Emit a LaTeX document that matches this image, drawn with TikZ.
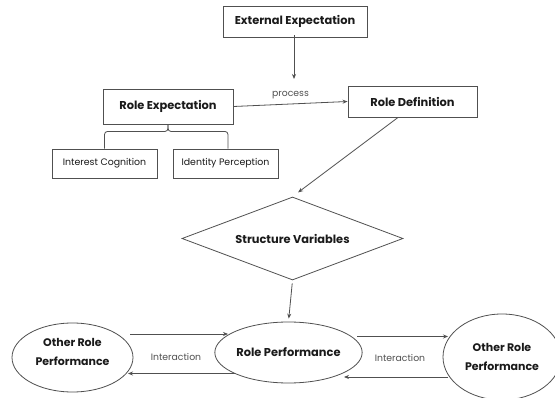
\documentclass[tikz,border=0pt]{standalone}
\usepackage{fontspec}
\setmainfont{Poppins}
\usetikzlibrary{shapes.geometric,arrows.meta,calc}
\definecolor{linec}{HTML}{505050}
\definecolor{txtc}{HTML}{1A1A1A}
\tikzset{
  box/.style={draw=linec,line width=0.9pt,rectangle,inner sep=0pt,text=txtc},
  bigtxt/.style={font=\fontsize{11.4}{13}\selectfont\bfseries},
  ovaltxt/.style={font=\fontsize{11}{19}\selectfont\bfseries},
  smalltxt/.style={font=\fontsize{9.4}{11}\selectfont},
  oval/.style={draw=linec,line width=0.8pt,ellipse,inner sep=0pt,text=txtc,align=center},
  arr/.style={draw=linec,line width=0.8pt,-{Stealth[length=5pt,width=4pt]}},
  plain/.style={draw=linec,line width=0.8pt},
  lbl/.style={text=linec,font=\fontsize{9.3}{11}\selectfont}
}
\begin{document}
\begin{tikzpicture}[x=1pt,y=-1pt]
\useasboundingbox (0,0) rectangle (555,398);
\fill[white] (0,0) rectangle (555,398);
\begin{scope}
\clip (0,0) rectangle (555,398);
\node[box,bigtxt,minimum width=144pt,minimum height=31pt] (ext) at (295,21.5) {External Expectation};
\node[box,bigtxt,minimum width=130pt,minimum height=35pt] (rexp) at (168,106.5) {Role Expectation};
\node[box,bigtxt,minimum width=129pt,minimum height=31pt] (rdef) at (412.5,101.5) {Role Definition};
\node[box,smalltxt,minimum width=105pt,minimum height=29pt] (ic) at (104.5,163.5) {Interest Cognition};
\node[box,smalltxt,minimum width=105pt,minimum height=29pt] (ip) at (225.5,163.5) {Identity Perception};
\node[draw=linec,line width=0.8pt,diamond,inner sep=0pt,aspect=2.66,minimum width=221pt,minimum height=83pt,bigtxt,text=txtc] (sv) at (292.5,238.5) {Structure Variables};
\node[oval,bigtxt,minimum width=143pt,minimum height=61pt] (rp) at (288.5,352.5) {Role Performance};
\node[oval,ovaltxt,minimum width=121pt,minimum height=69pt] (lop) at (72.5,357.5) {};
\node[ovaltxt,align=center,text=txtc,inner sep=0pt] (loptxt) at (72.5,351.5) {Other Role\\Performance};
\node[oval,ovaltxt,minimum width=118pt,minimum height=86pt] (rop) at (502,357) {Other Role\\Performance};

\coordinate (extend) at (294,79);
\draw[arr] (ext.south -| extend) ++(0,-2) -- (extend);
\draw[arr] (rexp.east) -- node[lbl,above=1pt] {process} (rdef.west);
\draw[plain,rounded corners=3pt] (rexp.south) -- ++(0,7) -| (ic.north);
\draw[plain,rounded corners=3pt] (rexp.south) -- ++(0,7) -| ([xshift=2.5pt]ip.north);
\draw[arr,shorten >=7pt] ([xshift=-14.5pt]rdef.south) -- (sv.north);
\draw[arr,shorten <=3pt,shorten >=3pt] (sv.south) -- (rp.north);

\coordinate (l1s) at (130,334);
\coordinate (l1e) at (228,334);
\coordinate (l2s) at (235,373.5);
\coordinate (l2e) at (128,373.5);
\coordinate (r1s) at (357,336.5);
\coordinate (r1e) at (448,336.5);
\coordinate (r2s) at (448,377);
\coordinate (r2e) at (344,377);
\draw[arr] (l1s) -- (l1e);
\draw[arr] (l2s) -- (l2e);
\draw[arr] (r1s) -- (r1e);
\draw[arr] (r2s) -- (r2e);
\node[lbl] (i1) at (176,357) {Interaction};
\node[lbl] (i2) at (400,358) {Interaction};
\end{scope}
\end{tikzpicture}
\end{document}
